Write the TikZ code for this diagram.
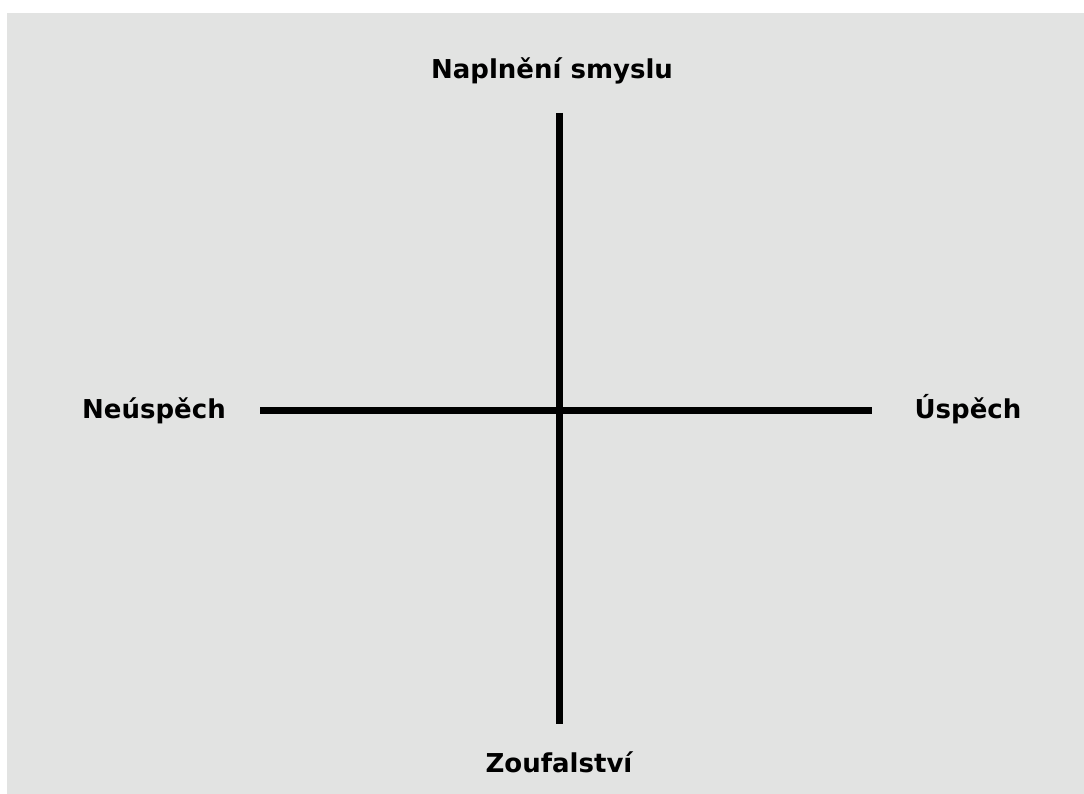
\documentclass[tikz,border=0pt]{standalone}
\usepackage{fontspec}
\setmainfont{DejaVu Sans}
\definecolor{bg}{HTML}{E2E3E2}
\tikzset{
  axis/.style={line width=7pt, black},
  lbl/.style={font=\fontsize{26}{30}\selectfont\bfseries, inner sep=0pt, anchor=base}
}
\begin{document}
\begin{tikzpicture}[x=1pt,y=-1pt]
\useasboundingbox (0,0) rectangle (1084,794);
\fill[white] (0,0) rectangle (1084,794);
\fill[bg] (7,13) rectangle (1084,794);
\coordinate (top) at (559,113);
\coordinate (bot) at (559,724);
\coordinate (left) at (260,410);
\coordinate (right) at (872,410);
\draw[axis] (top) -- (bot);
\draw[axis] (left) -- (right);
\node[lbl] (n) at (552,79) {Naplnění smyslu};
\node[lbl] (w) at (154,418) {Neúspěch};
\node[lbl] (e) at (968,418) {Úspěch};
\node[lbl] (s) at (559,772) {Zoufalství};
\end{tikzpicture}
\end{document}
